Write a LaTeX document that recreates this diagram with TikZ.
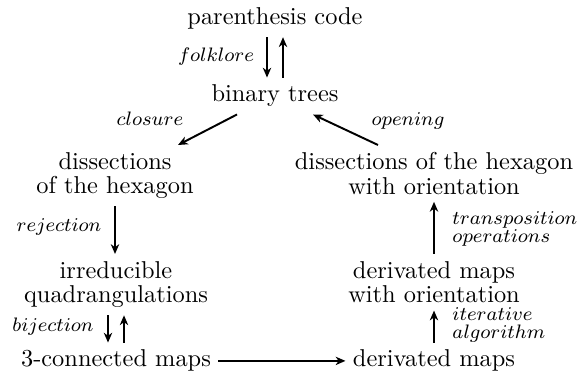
\documentclass[tikz,border=0pt]{standalone}
\usetikzlibrary{arrows.meta,calc}
\begin{document}
\begin{tikzpicture}[x=0.41pt,y=-0.41pt,
  obj/.style={inner sep=2.87pt, font=\fontsize{10}{10}\selectfont, align=center},
  lbl/.style={inner sep=0pt, font=\fontsize{8}{7.3}\selectfont, align=left},
  arr/.style={line width=0.8pt, -{Stealth[length=4pt,width=3.4pt,inset=1.2pt]}}]
\useasboundingbox (0,0) rectangle (587,377);

% objects
\node[obj, anchor=base]  (pc) at (275,25)  {parenthesis code};
\node[obj, anchor=base]  (bt) at (275,102) {binary trees};
\node[obj, anchor=north] (ld) at (115,145) {dissections\\of the hexagon};
\node[obj, anchor=north] (rd) at (434,145) {dissections of the hexagon\\with orientation};
\node[obj, anchor=north] (iq) at (116,254) {irreducible\\quadrangulations};
\node[obj, anchor=north] (rm) at (434,254) {derivated maps\\with orientation};
\node[obj, anchor=base]  (cm) at (116,367) {3-connected maps};
\node[obj, anchor=base]  (dm) at (434,367) {derivated maps};

% labels of the maps between them
\node[lbl, anchor=base] (lf) at (216,62)  {$folklore$};
\node[lbl, anchor=base] (lc) at (150,126) {$closure$};
\node[lbl, anchor=base] (lo) at (408,126) {$opening$};
\node[lbl, anchor=base] (lr) at (59,232)  {$rejection$};
\node[lbl, anchor=base] (lb) at (53,332)  {$bijection$};
\node[lbl, anchor=north west] (lt) at (452,211) {$transposition$\\$operations$};
\node[lbl, anchor=north west] (li) at (452,307) {$iterative$\\$algorithm$};

% maps
\draw[arr] ($(pc.south)+(-8,0)$) -- ($(bt.north)+(-8,0)$);
\draw[arr] ($(bt.north)+(8,0)$) -- ($(pc.south)+(8,0)$);
\draw[arr] ($(bt.south)+(-38,0)$) -- ($(ld.north)+(63,0)$);
\draw[arr] ($(rd.north)+(-56,0)$) -- ($(bt.south)+(38,0)$);
\draw[arr] (ld.south) -- (ld.south |- iq.north);
\draw[arr] (rm.north) -- (rm.north |- rd.south);
\draw[arr] ($(iq.south)+(-8,0)$) -- ($(iq.south |- cm.north)+(-8,0)$);
\draw[arr] ($(iq.south |- cm.north)+(8,0)$) -- ($(iq.south)+(8,0)$);
\draw[arr] (dm.north) -- (dm.north |- rm.south);
\draw[arr] (cm.east) -- (dm.west);
\end{tikzpicture}
\end{document}
